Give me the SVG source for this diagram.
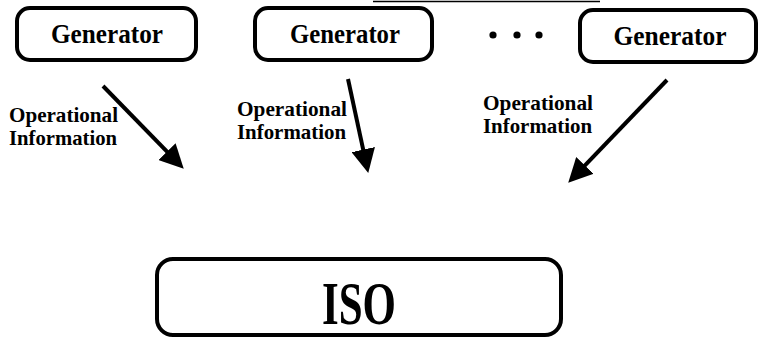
<svg xmlns="http://www.w3.org/2000/svg" width="760" height="339" viewBox="0 0 760 339">
<style>
.box{fill:#fff;stroke:#000;stroke-width:4}
.t{font-family:"Liberation Serif","Times New Roman",serif;font-weight:bold;fill:#000}
.gen{font-size:27px;text-anchor:middle}
.lbl{font-size:21px}
.arr{stroke:#000;stroke-width:4;fill:none;marker-end:url(#ah)}
</style>
<defs>
<marker id="ah" markerUnits="userSpaceOnUse" markerWidth="24" markerHeight="24" refX="10" refY="11" orient="auto" viewBox="0 0 22 22">
<path d="M0,0 L22,11 L0,22 z" fill="#000"/>
</marker>
</defs>
<rect width="760" height="339" fill="#fff"/>
<line x1="373" y1="1.5" x2="600" y2="1.5" stroke="#000" stroke-width="1.5"/>
<g id="gen1">
<rect class="box" x="17" y="8" width="179" height="52" rx="13"/>
<text class="t gen" x="107" y="43" textLength="112" lengthAdjust="spacingAndGlyphs">Generator</text>
</g>
<g id="gen2">
<rect class="box" x="255" y="8" width="177" height="52" rx="13"/>
<text class="t gen" x="345" y="43" textLength="110" lengthAdjust="spacingAndGlyphs">Generator</text>
</g>
<g id="dots">
<circle cx="493" cy="35" r="3.6"/>
<circle cx="517" cy="35" r="3.6"/>
<circle cx="539" cy="35" r="3.6"/>
</g>
<g id="gen3">
<rect class="box" x="580" y="10" width="176" height="52" rx="13"/>
<text class="t gen" x="670" y="45" textLength="113" lengthAdjust="spacingAndGlyphs">Generator</text>
</g>
<g id="iso">
<rect class="box" x="157" y="259" width="404" height="76" rx="16"/>
<text class="t" x="359" y="324" font-size="61" text-anchor="middle" textLength="74" lengthAdjust="spacingAndGlyphs">ISO</text>
</g>
<g id="connectors">
<line class="arr" x1="103" y1="86" x2="174.6" y2="159.4"/>
<line class="arr" x1="348" y1="79" x2="365.5" y2="160.3"/>
<line class="arr" x1="667" y1="80" x2="577.3" y2="173.3"/>
</g>
<g id="labels">
<text class="t lbl" x="9" y="122" textLength="109" lengthAdjust="spacingAndGlyphs">Operational</text>
<text class="t lbl" x="9" y="145" textLength="108" lengthAdjust="spacingAndGlyphs">Information</text>
<text class="t lbl" x="237" y="116" textLength="110" lengthAdjust="spacingAndGlyphs">Operational</text>
<text class="t lbl" x="237" y="139" textLength="109" lengthAdjust="spacingAndGlyphs">Information</text>
<text class="t lbl" x="483" y="110" textLength="110" lengthAdjust="spacingAndGlyphs">Operational</text>
<text class="t lbl" x="483" y="133" textLength="109" lengthAdjust="spacingAndGlyphs">Information</text>
</g>
</svg>
